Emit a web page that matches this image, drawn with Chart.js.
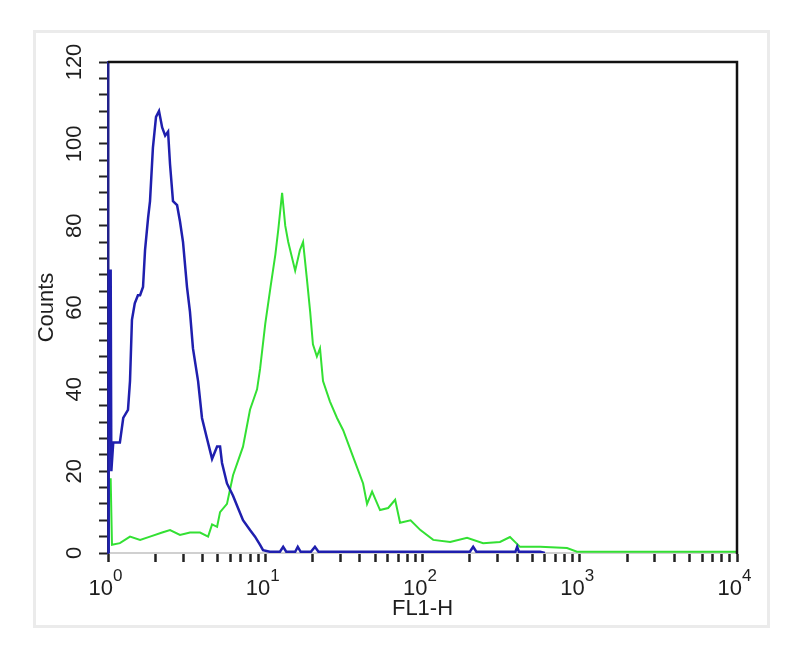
<!DOCTYPE html>
<html>
<head>
<meta charset="utf-8">
<title>FL1-H histogram</title>
<script src="https://cdn.jsdelivr.net/npm/chart.js@4.4.1/dist/chart.umd.min.js"></script>
<style>
  body { margin: 0; background: #fff; }
  #wrap { position: relative; width: 800px; height: 656px; }
  #frame {
    position: absolute; left: 33px; top: 30px; width: 737px; height: 598px;
    box-sizing: border-box; border: 3px solid #ebebeb;
  }
  #plot { position: absolute; left: 0; top: 0; }
</style>
</head>
<body>
<div id="wrap">
  <div id="frame"></div>
  <canvas id="plot" width="800" height="656"></canvas>
</div>
<script>
// control histogram (blue)
var blueX = [1.00, 1.01, 1.04, 1.05, 1.08, 1.19, 1.25, 1.34, 1.38, 1.42, 1.48, 1.55, 1.60, 1.67, 1.72,
  1.80, 1.85, 1.93, 2.02, 2.11, 2.21, 2.31, 2.41, 2.48, 2.59, 2.75, 2.87, 3.00, 3.18, 3.32,
  3.47, 3.74, 3.96, 4.26, 4.59, 4.94, 5.16, 5.31, 5.71, 6.24, 6.71, 7.22, 8.00, 8.61, 9.27,
  9.68, 10.7, 12.4, 13.0, 13.6, 15.5, 16.1, 16.8, 19.5, 20.7, 21.8, 60, 200, 210, 220,
  390, 400, 410, 560, 600];
var blueY = [0, 69, 69, 20, 27, 27, 33, 35, 42, 57, 61, 63, 63, 65, 74,
  82, 86, 99, 106.6, 108, 104, 102, 103, 95, 86, 85, 81, 76, 65, 59,
  50, 42, 33, 28, 23, 26, 26, 22, 17, 14, 11, 8, 5.6, 4, 2,
  0.7, 0.3, 0.3, 1.5, 0.3, 0.3, 1.5, 0.3, 0.3, 1.5, 0.3, 0.3, 0.3, 1.5, 0.3,
  0.3, 1.5, 0.3, 0.3, 0];

// stained sample (green)
var greenX = [1.00, 1.01, 1.04, 1.06, 1.19, 1.38, 1.60, 1.85, 2.21, 2.48, 2.87, 3.32, 3.85, 4.33,
  4.59, 4.94, 5.16, 5.71, 6.24, 7.22, 8.00, 8.87, 9.27, 10.0, 10.8, 11.6, 12.1, 12.8, 13.4,
  14.0, 15.5, 16.6, 17.4, 18.4, 19.3, 20.1, 21.3, 22.3, 23.3, 25.8, 28.6, 31.3, 36.2, 41.9,
  44.4, 47.8, 53.7, 60.5, 67.0, 72.0, 84.0, 97.0, 117, 150, 192, 243, 311, 360, 417,
  560, 830, 960, 10000];
var greenY = [0, 18, 18, 2, 2.4, 4, 3.2, 4, 5, 5.6, 4.4, 5, 5, 4,
  7, 6.4, 10, 12, 19, 26, 35, 40, 45, 56, 65, 73, 79, 88, 80,
  76, 69, 74, 76, 67, 59, 51, 48, 50, 42, 37, 33, 30, 23.5, 17,
  12, 15, 10.5, 11, 13, 7.4, 8, 5.6, 3.2, 2.7, 3.7, 2.4, 2.7, 3.9, 1.5,
  1.5, 1.2, 0.3, 0.3];

// x tick labels: base and exponent
var xTickVals = [1, 10, 100, 1000, 10000];
var xTickExp = ['0', '1', '2', '3', '4'];

var fontFam = "'Liberation Sans', Arial, sans-serif";
Chart.defaults.font.family = fontFam;

function pts(xs, ys) {
  var out = [];
  for (var i = 0; i < xs.length; i++) out.push({ x: xs[i], y: ys[i] });
  return out;
}

// top/right frame and 10^n labels
var decor = {
  id: 'decor',
  afterDraw: function (chart) {
    var c = chart.ctx, a = chart.chartArea, xs = chart.scales.x;
    c.save();
    c.strokeStyle = '#111';
    c.lineWidth = 2.5;
    c.beginPath();
    c.moveTo(a.left, a.top);
    c.lineTo(a.right, a.top);
    c.lineTo(a.right, a.bottom + 1);
    c.stroke();
    c.fillStyle = '#1e1e1e';
    for (var i = 0; i < xTickVals.length; i++) {
      var px = xs.getPixelForValue(xTickVals[i]);
      c.font = '22px ' + fontFam;
      c.textAlign = 'right';
      c.textBaseline = 'alphabetic';
      c.fillText('10', px + 5, 595);
      c.font = '17px ' + fontFam;
      c.textAlign = 'left';
      c.fillText(xTickExp[i], px + 5, 581);
    }
    c.restore();
  }
};

var ctx = document.getElementById('plot').getContext('2d');
var chart = new Chart(ctx, {
  type: 'line',
  data: {
    datasets: [{
      label: 'control',
      data: pts(blueX, blueY),
      borderColor: '#1f1fae',
      borderWidth: 2.5,
      pointRadius: 0,
      tension: 0
    }, {
      label: 'sample',
      data: pts(greenX, greenY),
      borderColor: '#33e033',
      borderWidth: 2,
      pointRadius: 0,
      tension: 0
    }]
  },
  options: {
    responsive: false,
    animation: false,
    layout: { padding: { left: 34, right: 63, top: 62, bottom: 34 } },
    plugins: { legend: { display: false }, tooltip: { enabled: false } },
    scales: {
      x: {
        type: 'logarithmic',
        min: 1,
        max: 10000,
        border: { color: '#d0d0d0', width: 2 },
        grid: { drawOnChartArea: false, drawTicks: true, tickLength: 9, tickColor: '#222', tickWidth: 2.5 },
        ticks: { autoSkip: false, maxRotation: 0, padding: 0, callback: function () { return ''; } },
        title: { display: true, text: 'FL1-H', color: '#1e1e1e', font: { size: 22 }, padding: 0 },
        afterBuildTicks: function (s) {
          s.ticks = s.ticks.filter(function (t) {
            var m = t.value / Math.pow(10, Math.floor(Math.log10(t.value) + 1e-9));
            return Math.abs(m - Math.round(m)) < 1e-6;
          });
        },
        afterFit: function (s) { s.height = 69; }
      },
      y: {
        min: 0,
        max: 120,
        border: { color: '#20208a', width: 2.5 },
        grid: { drawOnChartArea: false, drawTicks: true, tickLength: 9, tickColor: '#222', tickWidth: 2 },
        ticks: {
          stepSize: 4,
          autoSkip: false,
          minRotation: 90,
          maxRotation: 90,
          crossAlign: 'center',
          padding: 6,
          color: '#1e1e1e',
          font: { size: 22 },
          callback: function (v) { return v % 20 === 0 ? String(v) : ''; }
        },
        title: { display: true, text: 'Counts', color: '#1e1e1e', font: { size: 22 }, padding: 0 },
        afterFit: function (s) { s.width = 74; }
      }
    }
  },
  plugins: [decor]
});
</script>
</body>
</html>
